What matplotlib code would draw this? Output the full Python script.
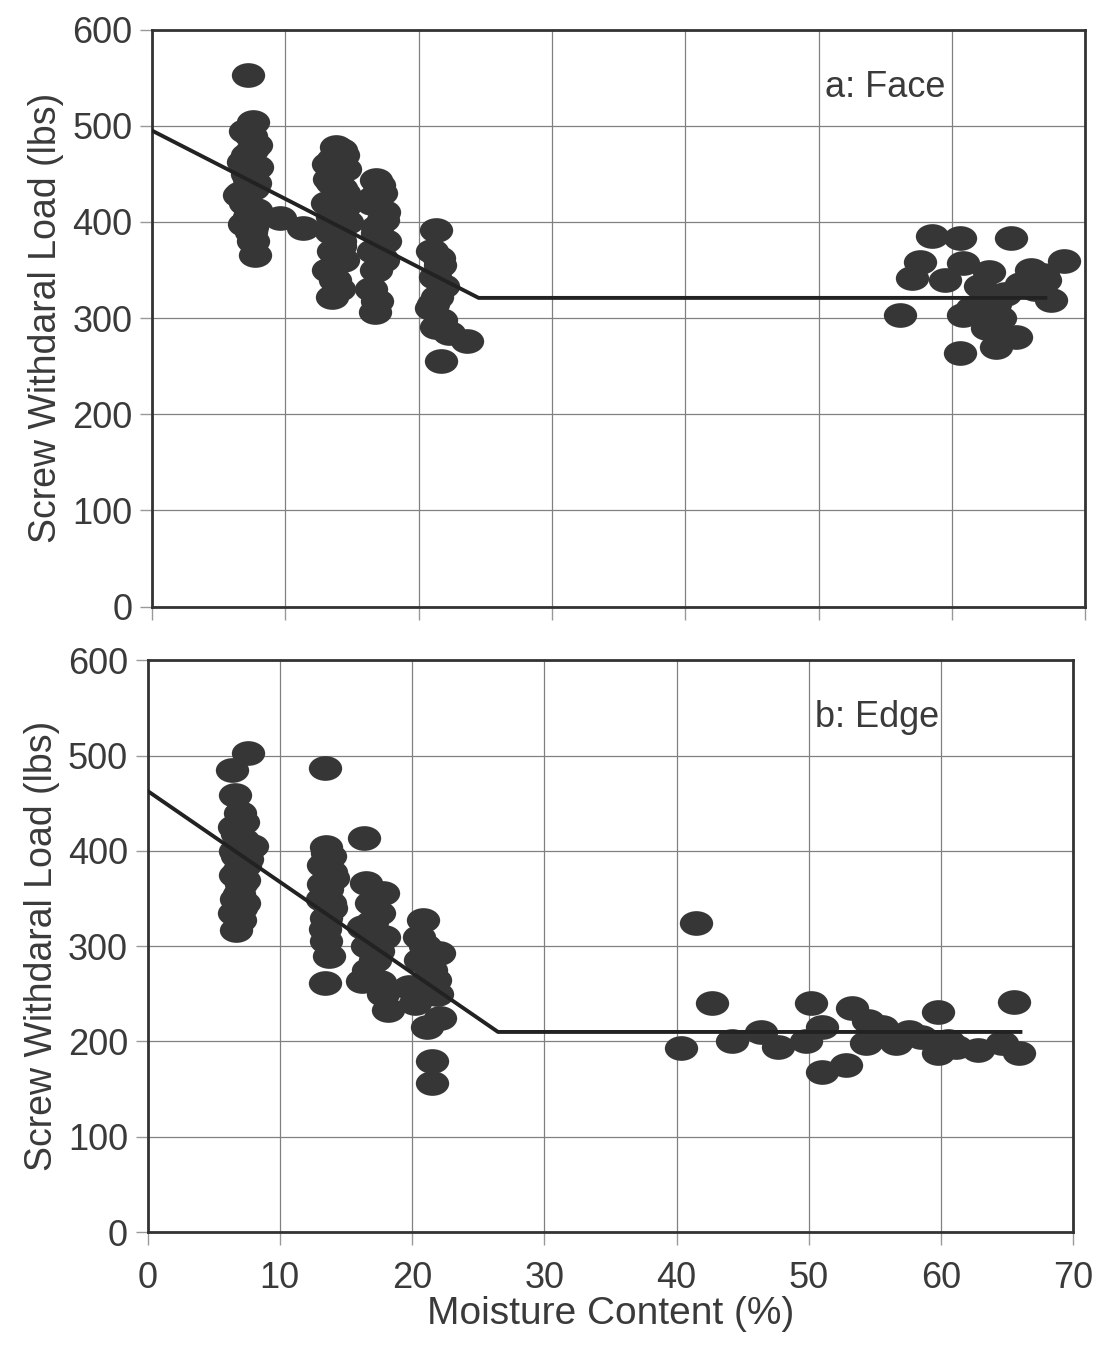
import matplotlib

matplotlib.use("Agg")
import matplotlib.pyplot as plt
from matplotlib.path import Path
from matplotlib.transforms import Affine2D

plt.rcParams["font.family"] = ["Liberation Sans", "DejaVu Sans"]

# ---- a: Face ----
face_mc = [7.2, 7.6, 7.0, 7.4, 7.8, 7.1, 6.8, 7.9, 7.3, 7.6, 6.5, 7.0, 7.8, 7.3, 6.9, 7.4, 7.6, 7.7,
           7.5, 7.1, 7.7, 7.3, 6.7, 7.5,
           9.6, 11.3,
           13.8, 14.3, 13.2, 14.0, 13.5, 14.4, 13.1, 13.9, 14.6, 13.4, 14.1, 13.6, 14.3, 13.2, 13.7, 14.0, 13.5,
           14.2, 13.6, 14.5, 13.3, 14.2, 13.8, 14.4, 13.5, 13.9, 14.1,
           16.8, 17.2, 16.5, 17.4, 16.9, 17.5, 16.6, 17.3, 16.8, 16.4, 16.9, 16.7,
           17.0, 16.6, 17.3, 16.9, 17.1,
           21.3, 21.0, 21.6, 21.2, 21.8, 21.4, 20.9, 21.7, 21.3, 22.3, 21.7, 23.6,
           21.5, 21.1,
           58.5, 60.6, 64.4, 57.6, 57.0, 56.1, 60.8, 62.8, 65.9, 68.4, 67.4, 60.8, 63.6,
           60.6, 63.3, 62.1, 59.5, 66.8, 64.0, 61.5, 63.0, 65.2, 62.5, 64.8, 67.0,
           63.2, 62.6, 66.2]
face_load = [553, 504, 495, 489, 480, 470, 462, 457, 445, 435, 428, 420, 412, 405, 398, 390, 380, 366,
             475, 450, 440, 415, 430, 395,
             404, 394,
             478, 470, 460, 452, 440, 430, 420, 410, 400, 390, 380, 370, 360, 350, 340, 330, 322,
             475, 465, 455, 445, 435, 425, 415, 405, 385, 375,
             444, 430, 420, 410, 395, 380, 370, 360, 350, 330, 318, 306,
             438, 425, 402, 388, 365,
             392, 370, 355, 343, 333, 322, 310, 298, 291, 285, 255, 276,
             362, 315,
             385, 383, 383, 358, 342, 303, 357, 348, 350, 359, 319, 303, 300,
             264, 270, 333, 340, 345, 325, 310, 290, 335, 320, 280, 340,
             315, 290, 330]
face_fit_x = [0, 24.5, 67]
face_fit_y = [495, 321, 321]

# ---- b: Edge ----
edge_mc = [7.6, 6.4, 6.6, 7.0, 6.5, 7.2, 7.9, 6.8, 7.4, 6.6, 7.1, 6.9, 7.3, 6.5, 7.0, 6.7, 6.6,
           7.2, 6.8, 7.5, 6.9, 7.3, 6.7, 7.1,
           13.4, 13.5, 13.8, 13.3, 14.0, 13.6, 13.2, 13.9, 13.5, 13.4, 13.7, 13.4,
           13.6, 13.9, 13.3, 13.8, 13.5,
           16.4, 16.5, 17.8, 16.9, 17.5, 16.3, 17.9, 16.6, 17.2, 16.2, 17.8, 18.2,
           17.0, 17.4, 16.7, 17.6,
           20.8, 22.0, 19.8, 21.4, 20.5, 21.9, 21.1, 20.2, 22.1, 21.5, 21.5,
           21.0, 21.7, 20.6,
           41.5, 42.7, 40.3, 44.2, 46.4, 47.7, 50.2, 49.8, 51.0, 51.0, 52.8, 53.3, 54.5,
           54.3, 56.6, 57.6, 59.8, 59.8, 61.1, 62.8, 65.5, 65.9, 64.6, 58.5, 60.5, 55.5]
edge_load = [503, 485, 459, 440, 425, 411, 405, 395, 385, 375, 365, 355, 345, 335, 327, 317, 400,
             430, 418, 392, 380, 370, 350, 340,
             487, 404, 395, 385, 372, 360, 350, 340, 330, 318, 290, 261,
             398, 378, 365, 345, 305,
             414, 366, 356, 345, 335, 320, 310, 300, 285, 264, 250, 233,
             325, 295, 275, 262,
             327, 293, 257, 275, 310, 250, 215, 240, 225, 180, 156,
             300, 265, 285,
             324, 240, 193, 200, 210, 194, 240, 201, 215, 168, 175, 235, 222,
             198, 198, 210, 231, 188, 194, 191, 241, 188, 198, 205, 200, 215]
edge_fit_x = [0, 26.5, 66]
edge_fit_y = [463, 210, 210]

ell = Path.unit_circle().transformed(Affine2D().scale(1.35, 1.0))
dot = "#363636"
ink = "#3a3a3a"

fig = plt.figure(figsize=(10.93, 13.45), dpi=100)
ax1 = fig.add_axes([0.139, 0.549, 0.854, 0.429])
ax2 = fig.add_axes([0.135, 0.084, 0.847, 0.425])

panels = [
    (ax1, face_mc, face_load, face_fit_x, face_fit_y, "a: Face"),
    (ax2, edge_mc, edge_load, edge_fit_x, edge_fit_y, "b: Edge"),
]
for ax, x, y, fx, fy, lab in panels:
    ax.plot(x, y, linestyle="none", marker=ell, markersize=24,
            color=dot, markeredgewidth=0, zorder=3)
    ax.plot(fx, fy, color="#222222", linewidth=2.8, zorder=4)
    ax.set_xlim(0, 70)
    ax.set_ylim(0, 600)
    ax.set_xticks(range(0, 71, 10))
    ax.set_yticks(range(0, 601, 100))
    ax.grid(color="#808080", linewidth=0.9)
    ax.set_axisbelow(True)
    for s in ax.spines.values():
        s.set_linewidth(2)
        s.set_color("#333333")
    ax.tick_params(labelsize=26, labelcolor=ink, color="#999999",
                   length=9, width=1.0, pad=5)
    ax.set_ylabel("Screw Withdaral Load (lbs)", fontsize=27, color=ink, labelpad=6)
    ax.text(50.5, 540, lab, fontsize=26, color=ink, va="center")

ax1.tick_params(labelbottom=False)
ax2.tick_params(axis="x", pad=12)
ax2.set_xlabel("Moisture Content (%)", fontsize=28, color=ink, labelpad=0)

fig.savefig("out.png")
